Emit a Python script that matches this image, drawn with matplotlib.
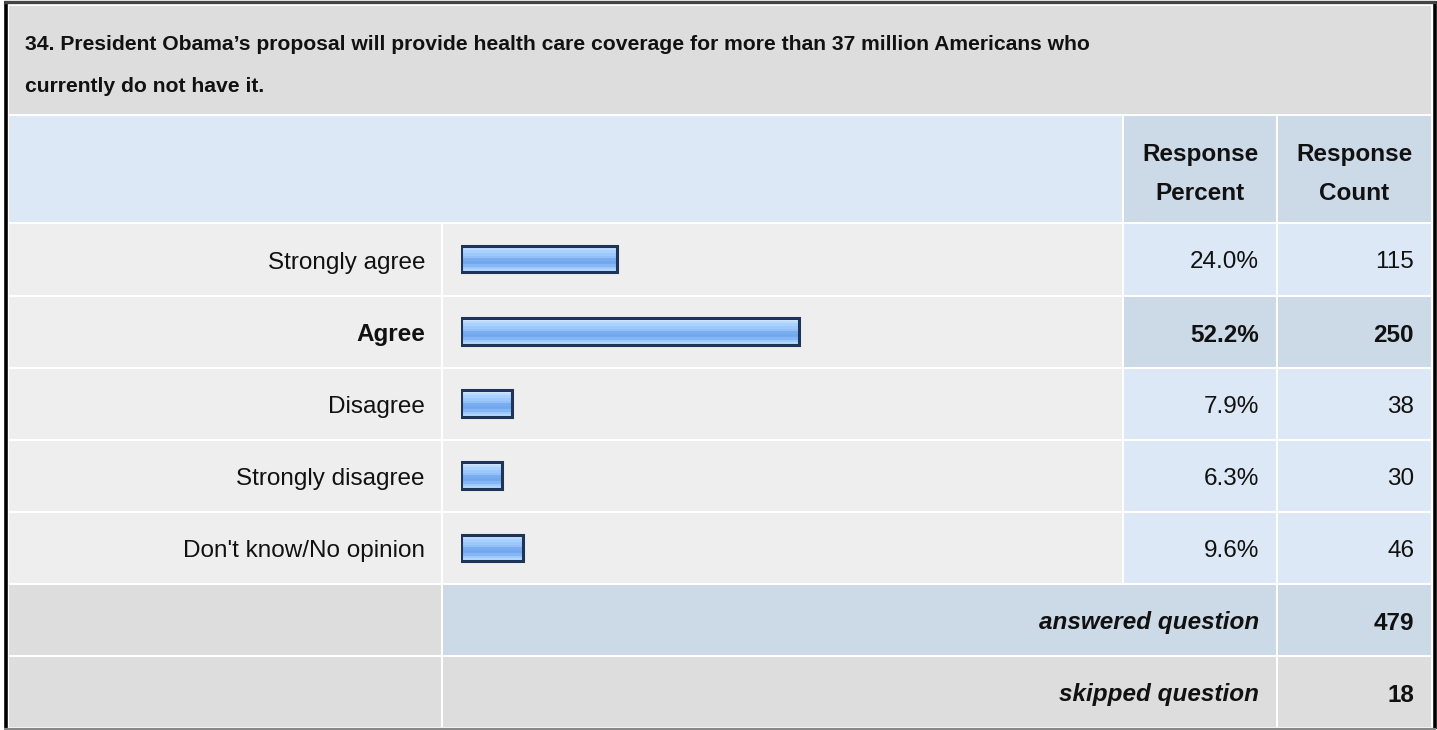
import numpy as np
import matplotlib.pyplot as plt
from matplotlib.patches import Rectangle
from matplotlib.colors import to_rgb

plt.rcParams['font.family'] = ['Liberation Sans', 'DejaVu Sans']

# ---- data ----
TITLE_LINES = [
    "34. President Obama\u2019s proposal will provide health care coverage for more than 37 million Americans who",
    "currently do not have it.",
]
choices = ["Strongly agree", "Agree", "Disagree", "Strongly disagree", "Don't know/No opinion"]
percent = [24.0, 52.2, 7.9, 6.3, 9.6]
counts = [115, 250, 38, 30, 46]
answered = 479
skipped = 18

# ---- layout (pixels) ----
W, H = 1437, 730
col_edges = [8, 442, 1123, 1277, 1432]
row_edges = [5, 115, 223, 296, 368, 440, 512, 584, 656, 728]

GREY = '#dddddd'
LIGHT = '#eeeeee'
BLUE = '#dce8f5'
BLUE_D = '#ccd9e7'
FS = 17.5
FS_TITLE = 15.2
INK = '#111111'

fig = plt.figure(figsize=(W / 100, H / 100), dpi=100)
fig.patch.set_facecolor('white')
ax = fig.add_axes([0, 0, 1, 1])
ax.set_xlim(0, W)
ax.set_ylim(H, 0)
ax.axis('off')


def cell(c0, c1, r0, r1, color):
    x0 = col_edges[c0] + 1
    x1 = col_edges[c1] - 1
    y0 = row_edges[r0] + 1
    y1 = row_edges[r1] - 1
    ax.add_patch(Rectangle((x0, y0), x1 - x0, y1 - y0, facecolor=color, edgecolor='none'))


def row_mid(r):
    # text baseline sits a bit low in the cells of the original
    return (row_edges[r] + row_edges[r + 1]) / 2 + 3


# title + header
cell(0, 4, 0, 1, GREY)
cell(0, 2, 1, 2, BLUE)
cell(2, 3, 1, 2, BLUE_D)
cell(3, 4, 1, 2, BLUE_D)
for i, line in enumerate(TITLE_LINES):
    ax.text(25, 45 + 42 * i, line, fontsize=FS_TITLE, fontweight='bold', ha='left', va='center', color=INK)
for c, words in [(2, ("Response", "Percent")), (3, ("Response", "Count"))]:
    cx = (col_edges[c] + col_edges[c + 1]) / 2
    ax.text(cx, 155, words[0], fontsize=FS, fontweight='bold', ha='center', va='center', color=INK)
    ax.text(cx, 193, words[1], fontsize=FS, fontweight='bold', ha='center', va='center', color=INK)

# answer rows
top = int(np.argmax(percent))
for i, (lab, p, n) in enumerate(zip(choices, percent, counts)):
    r = 2 + i
    hi = i == top
    cell(0, 1, r, r + 1, LIGHT)
    cell(1, 2, r, r + 1, LIGHT)
    cell(2, 3, r, r + 1, BLUE_D if hi else BLUE)
    cell(3, 4, r, r + 1, BLUE_D if hi else BLUE)
    fw = 'bold' if hi else 'normal'
    y = row_mid(r)
    ax.text(425, y, lab, fontsize=FS, fontweight=fw, ha='right', va='center', color=INK)
    ax.text(1259, y, f"{p:.1f}%", fontsize=FS, fontweight=fw, ha='right', va='center', color=INK)
    ax.text(1414, y, str(n), fontsize=FS, fontweight=fw, ha='right', va='center', color=INK)

# summary rows
cell(0, 1, 7, 8, GREY)
cell(1, 3, 7, 8, BLUE_D)
cell(3, 4, 7, 8, BLUE_D)
cell(0, 1, 8, 9, GREY)
cell(1, 3, 8, 9, GREY)
cell(3, 4, 8, 9, GREY)
for r, lab, n in [(7, "answered question", answered), (8, "skipped question", skipped)]:
    y = row_mid(r)
    ax.text(1259, y, lab, fontsize=FS, fontweight='bold', style='italic', ha='right', va='center', color=INK)
    ax.text(1414, y, str(n), fontsize=FS, fontweight='bold', ha='right', va='center', color=INK)

# outer frame
ax.plot([5.5, 5.5], [1, 729], color='black', lw=2.6, solid_capstyle='butt')
ax.plot([1434.5, 1434.5], [1, 729], color='black', lw=2.6, solid_capstyle='butt')
ax.plot([4, 1436], [1.5, 1.5], color='#444444', lw=2.4, solid_capstyle='butt')
ax.plot([4, 1436], [729, 729], color='#888888', lw=1.6, solid_capstyle='butt')

# bars: own axes, x in percent
bx0, bw = 461, 648
by0, by1 = row_edges[2], row_edges[7]
bax = fig.add_axes([bx0 / W, 1 - by1 / H, bw / W, (by1 - by0) / H])
bax.axis('off')
bax.patch.set_alpha(0)

stripes = ['#d3e9ff', '#bcdcff', '#a9d1ff', '#9dc8fd', '#94c0fa', '#7aadef',
           '#74a8ee', '#86b7f5', '#9ccaff', '#b4d8ff']
grad = np.array([to_rgb(c) for c in stripes])[:, None, :]
bh = 0.37
for i, p in enumerate(percent):
    bax.imshow(grad, extent=(0, p, i + bh / 2, i - bh / 2), aspect='auto',
               interpolation='nearest', zorder=1)
    bax.barh(i, p, height=bh, left=0, facecolor='none', edgecolor='#1f3558',
             linewidth=2.2, zorder=2)
bax.set_xlim(0, 100)
bax.set_ylim(len(choices) - 0.5, -0.5)

fig.savefig('out.png', dpi=100)
